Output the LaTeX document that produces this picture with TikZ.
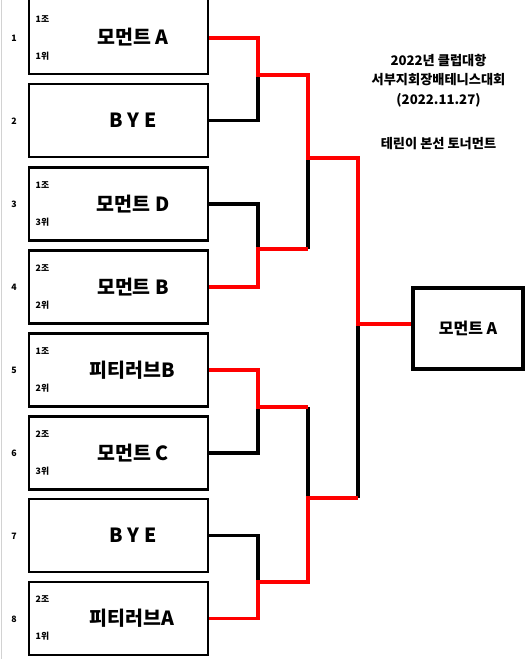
\documentclass[tikz,border=0pt]{standalone}
\usepackage{fontspec}
\setmainfont{Noto Sans CJK KR}
\begin{document}
\begin{tikzpicture}[x=1pt,y=-1pt,
  teambox/.style={draw=black,line width=2.8pt,minimum width=179pt,minimum height=73pt,inner sep=0pt},
  finalbox/.style={draw=black,line width=4pt,minimum width=110pt,minimum height=81pt,inner sep=0pt},
  bigtxt/.style={font=\fontsize{19.5}{21}\selectfont\bfseries,inner sep=0pt},
  smalltxt/.style={font=\fontsize{8.8}{9}\selectfont\bfseries,inner sep=0pt,anchor=west},
  rownum/.style={font=\fontsize{8.8}{9}\selectfont\bfseries,inner sep=0pt},
  titletxt/.style={font=\fontsize{13.2}{14}\selectfont\bfseries,inner sep=0pt},
  lose/.style={draw=black,line width=3.1pt},
  win/.style={draw=red,line width=3.1pt}]
\useasboundingbox (0,0) rectangle (528,659);
\fill[white] (0,0) rectangle (528,659);
\draw[gray!35,line width=0.8pt] (1.5,0) -- (1.5,659);

% team boxes
\node[teambox,minimum height=80pt] (b1) at (118.5,34) {};
\node[teambox] (b2) at (118.5,120.5) {};
\node[teambox] (b3) at (118.5,204) {};
\node[teambox] (b4) at (118.5,287) {};
\node[teambox] (b5) at (118.5,370) {};
\node[teambox] (b6) at (118.5,453) {};
\node[teambox] (b7) at (118.5,535.5) {};
\node[teambox] (b8) at (118.5,618.5) {};

% big names
\node[bigtxt] (t1) at (133,37) {모먼트 A};
\node[bigtxt] (t2) at (133,120.5) {B Y E};
\node[bigtxt] (t3) at (133,204) {모먼트 D};
\node[bigtxt] (t4) at (133,287) {모먼트 B};
\node[bigtxt] (t5) at (132,370) {피티러브B};
\node[bigtxt] (t6) at (133,453) {모먼트 C};
\node[bigtxt] (t7) at (133,535.5) {B Y E};
\node[bigtxt] (t8) at (132,618.5) {피티러브A};

% small labels
\node[smalltxt] (g1) at (35.5,19) {1조};
\node[smalltxt] (p1) at (35.5,56) {1위};
\node[smalltxt] (g3) at (35.5,185) {1조};
\node[smalltxt] (p3) at (35.5,222) {3위};
\node[smalltxt] (g4) at (35.5,268) {2조};
\node[smalltxt] (p4) at (35.5,305) {2위};
\node[smalltxt] (g5) at (35.5,351) {1조};
\node[smalltxt] (p5) at (35.5,388) {2위};
\node[smalltxt] (g6) at (35.5,434) {2조};
\node[smalltxt] (p6) at (35.5,471) {3위};
\node[smalltxt] (g8) at (35.5,599) {2조};
\node[smalltxt] (p8) at (35.5,636) {1위};

% row numbers
\node[rownum] (r1) at (14,38) {1};
\node[rownum] (r2) at (14,121) {2};
\node[rownum] (r3) at (14,204) {3};
\node[rownum] (r4) at (14,287) {4};
\node[rownum] (r5) at (14,370) {5};
\node[rownum] (r6) at (14,453) {6};
\node[rownum] (r7) at (14,536) {7};
\node[rownum] (r8) at (14,619) {8};

% final box
\node[finalbox,font=\fontsize{16}{17}\selectfont\bfseries] (fin) at (468,328.5) {모먼트 A};

% title
\node[titletxt] (h1) at (438.5,60.5) {2022년 클럽대항};
\node[titletxt] (h2) at (438.5,80) {서부지회장배테니스대회};
\node[titletxt] (h3) at (438.5,100) {(2022.11.27)};
\node[titletxt] (h4) at (438.5,144) {테린이 본선 토너먼트};

% junction coordinates
\coordinate (j1) at (258,75);
\coordinate (j2) at (258,249);
\coordinate (j3) at (258,407);
\coordinate (j4) at (258,582);
\coordinate (a1) at (308,75);
\coordinate (a2) at (308,249);
\coordinate (a3) at (308,407);
\coordinate (a4) at (308,582);
\coordinate (m1) at (308,158);
\coordinate (m2) at (308,498);
\coordinate (n1) at (358,158);
\coordinate (n2) at (358,498);
\coordinate (f) at (358,324);

% losing lines
\draw[lose] (b2.east) -| (j1);
\draw[lose] (b3.east) -| (j2);
\draw[lose] (b6.east) -| (j3);
\draw[lose] (b7.east) -| (j4);
\draw[lose] (a2) -- (m1);
\draw[lose] (a3) -- (m2);
\draw[lose] (n2) -- (f);

% winning lines
\draw[win] ([yshift=-4pt]b1.east) -| (j1) -- (a1) -- (m1) -- (n1) -- (f) -- ([yshift=4.5pt]fin.west);
\draw[win] (b4.east) -| (j2) -- (a2);
\draw[win] (b5.east) -| (j3) -- (a3);
\draw[win] (b8.east) -| (j4) -- (a4) -- (m2) -- (n2);
\end{tikzpicture}
\end{document}
